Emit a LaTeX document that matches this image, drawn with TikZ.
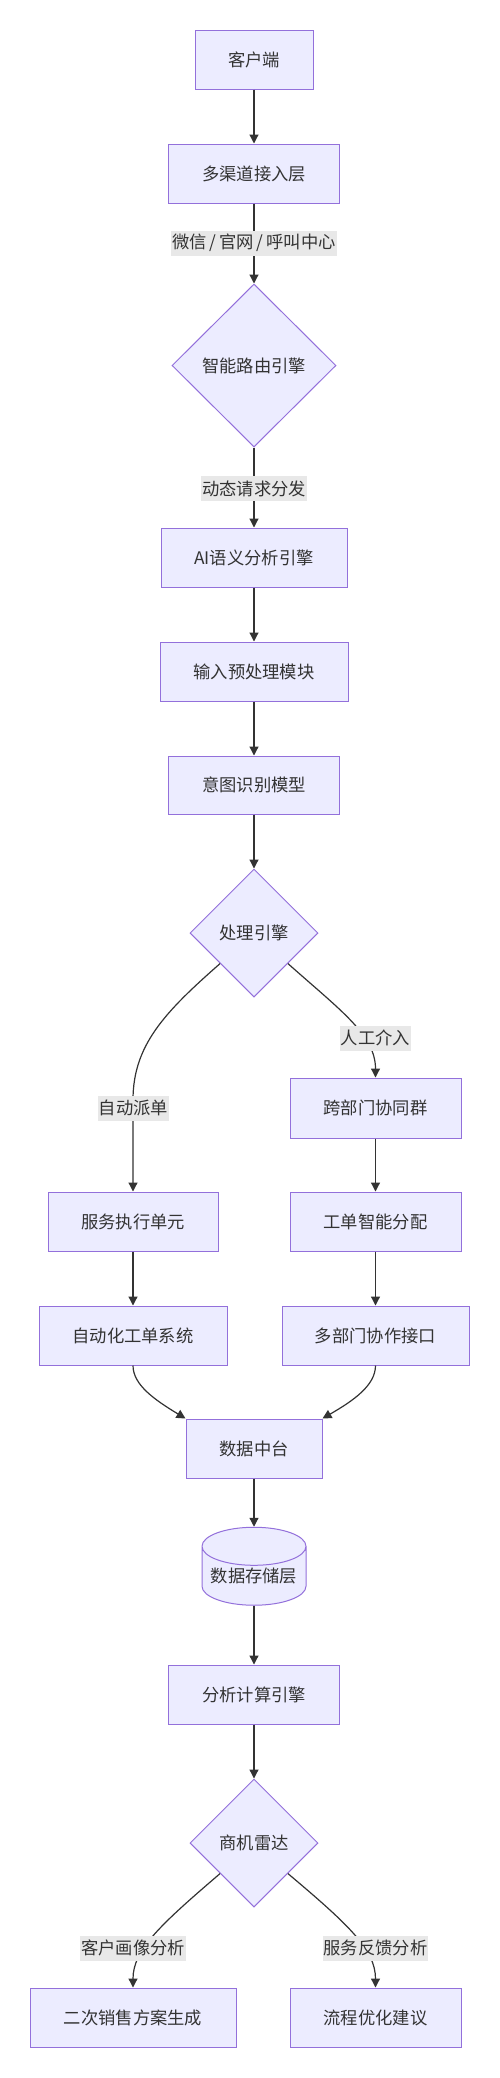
\documentclass[tikz,border=0pt]{standalone}
\usepackage{fontspec}
\setmainfont{Noto Sans CJK SC}
\usetikzlibrary{shapes.geometric,arrows.meta}
\definecolor{nodefill}{HTML}{ECECFF}
\definecolor{nodeline}{HTML}{9370DB}
\definecolor{textcol}{HTML}{333333}
\definecolor{edgecol}{HTML}{333333}
\definecolor{labelbg}{HTML}{E8E8E8}
\begin{document}
\begin{tikzpicture}[x=1pt,y=1pt,
  font=\fontsize{17.3pt}{20pt}\selectfont,
  box/.style={rectangle, draw=nodeline, fill=nodefill, line width=1pt, text=textcol, inner sep=0pt, minimum height=59pt},
  dia/.style={diamond, aspect=1, draw=nodeline, fill=nodefill, line width=1pt, text=textcol, inner sep=0pt},
  elabel/.style={fill=labelbg, text=textcol, inner xsep=1pt, inner ysep=0pt, minimum height=25pt},
  conn/.style={draw=edgecol, line width=1.2pt, -{Triangle[length=9pt,width=9pt]}},
]
\useasboundingbox (0,0) rectangle (500,-2078);
\fill[white] (0,0) rectangle (500,-2078);

% nodes
\node[box, minimum width=118pt] (n1) at (254,-59.5) {客户端};
\node[box, minimum width=171pt] (n2) at (254,-173.5) {多渠道接入层};
\node[dia, minimum width=164pt, minimum height=163pt] (d1) at (254,-365.5) {智能路由引擎};
\node[box, minimum width=186pt] (n3) at (254,-557.5) {AI语义分析引擎};
\node[box, minimum width=188pt] (n4) at (254,-671.5) {输入预处理模块};
\node[box, minimum width=171pt, minimum height=58pt] (n5) at (254,-785) {意图识别模型};
\node[dia, minimum width=128pt, minimum height=128pt] (d2) at (254,-933) {处理引擎};
\node[box, minimum width=171pt, minimum height=60pt] (n8) at (375.5,-1108) {跨部门协同群};
\node[box, minimum width=170pt] (n6) at (133,-1221.5) {服务执行单元};
\node[box, minimum width=171pt] (n9) at (375.5,-1221.5) {工单智能分配};
\node[box, minimum width=188pt] (n7) at (133,-1335.5) {自动化工单系统};
\node[box, minimum width=187pt] (n10) at (375.5,-1335.5) {多部门协作接口};
\node[box, minimum width=136pt] (n11) at (254,-1448.5) {数据中台};
\node[cylinder, shape border rotate=90, aspect=0.44, draw=nodeline, fill=nodefill, line width=1pt, text=textcol, inner sep=0pt, minimum width=104pt, minimum height=78pt] (ds) at (254,-1576) {数据存储层};
\node[box, minimum width=171pt] (n12) at (254,-1694.5) {分析计算引擎};
\node[dia, minimum width=128pt, minimum height=128pt] (d3) at (254,-1843) {商机雷达};
\node[box, minimum width=206pt] (n13) at (133,-2017.5) {二次销售方案生成};
\node[box, minimum width=171pt] (n14) at (375.5,-2017.5) {流程优化建议};

% connectors
\draw[conn] (n1.south) -- (n2.north);
\draw[conn] (n2.south) -- (d1.north);
\draw[conn] (d1.south) -- (n3.north);
\draw[conn] (n3.south) -- (n4.north);
\draw[conn] (n4.south) -- (n5.north);
\draw[conn] (n5.south) -- (d2.north);
\draw[conn] (d2.222) .. controls (165,-1012) and (133,-1045) .. (133,-1100) -- (n6.north);
\draw[conn] (d2.318) .. controls (340,-1010) and (375.5,-1035) .. (n8.north);
\draw[conn] (n6.south) -- (n7.north);
\draw[conn] (n8.south) -- (n9.north);
\draw[conn] (n9.south) -- (n10.north);
\draw[conn] (n7.south) .. controls (133,-1385) and (155,-1400) .. (n11.north west);
\draw[conn] (n10.south) .. controls (375.5,-1385) and (354.5,-1400) .. (n11.north east);
\draw[conn] (n11.south) -- (ds.top);
\draw[conn] (ds.bottom) -- (n12.north);
\draw[conn] (n12.south) -- (d3.north);
\draw[conn] (d3.222) .. controls (160,-1925) and (133,-1950) .. (n13.north);
\draw[conn] (d3.318) .. controls (349,-1925) and (375.5,-1950) .. (n14.north);

% edge labels
\node[elabel] (l1) at (254,-243) {微信\,/\,官网\,/\,呼叫中心};
\node[elabel] (l2) at (254,-488.5) {动态请求分发};
\node[elabel] (l3) at (133.5,-1108) {自动派单};
\node[elabel] (l4) at (375.5,-1038) {人工介入};
\node[elabel] (l5) at (133,-1948) {客户画像分析};
\node[elabel] (l6) at (375.5,-1948) {服务反馈分析};
\end{tikzpicture}
\end{document}
